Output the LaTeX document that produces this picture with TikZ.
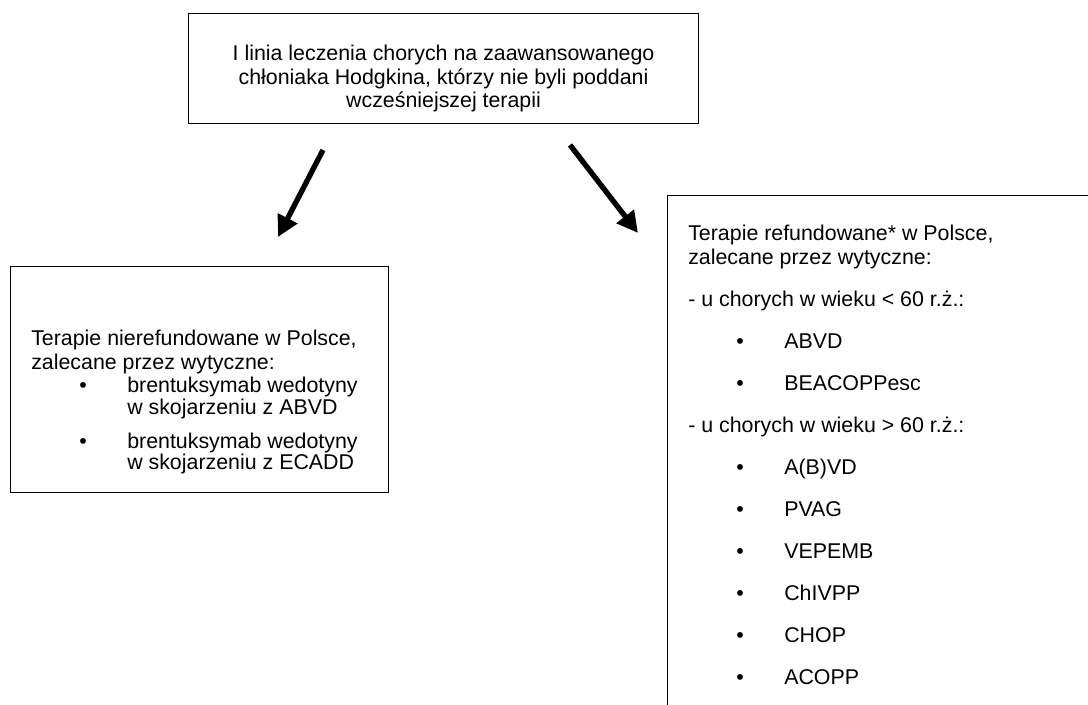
\documentclass[tikz,border=0pt]{standalone}
\usepackage{fontspec}
\setmainfont{Liberation Sans}
\usetikzlibrary{positioning,arrows.meta}
\newcommand{\bull}{\makebox[2.4cm][l]{\hspace{1.2cm}\textbullet}}

\begin{document}
\begin{tikzpicture}
    \tikzstyle{box} = [draw, line width=0.75pt, inner sep=0pt, anchor=north west]
    \tikzstyle{txt} = [inner sep=0pt, align=left, font=\fontsize{15.2}{15.5}\selectfont]
    \tikzstyle{bigarrow} = [-{Triangle[width=15pt,length=15pt]}, line width=3.8pt]
    \useasboundingbox (0,0) rectangle (27.2,-17.6);
    \clip (0,0) rectangle (27.2,-17.6);
    % boxes
    \node[box, minimum width=12.75cm, minimum height=2.75cm] (top) at (4.7,-0.325) {};
    \node[box, minimum width=9.45cm, minimum height=5.65cm] (left) at (0.25,-6.65) {};
    \node[box, minimum width=12cm, minimum height=14cm] (right) at (16.675,-4.875) {};
    % texts
    \node[txt, align=center, font=\fontsize{15.2}{16.7}\selectfont, below=0.775cm of top.north] (toptext)
        {\strut I linia leczenia chorych na zaawansowanego\\
         chłoniaka Hodgkina, którzy nie byli poddani\\
         wcześniejszej terapii};
    \node[txt, below right=1.6cm and 0.525cm of left.north west] (lefttext)
        {\strut Terapie nierefundowane w Polsce,\\
         zalecane przez wytyczne:\\[0.9pt]
         \bull brentuksymab wedotyny\\
         \hspace*{2.4cm}w skojarzeniu z ABVD\\[8.7pt]
         \bull brentuksymab wedotyny\\
         \hspace*{2.4cm}w skojarzeniu z ECADD};
    \node[txt, below right=0.75cm and 0.525cm of right.north west] (righttext)
        {\strut Terapie refundowane* w Polsce,\\
         zalecane przez wytyczne:\\[14.4pt]
         - u chorych w wieku < 60 r.ż.:\\[14.4pt]
         \bull ABVD\\[14.4pt]
         \bull BEACOPPesc\\[14.4pt]
         - u chorych w wieku > 60 r.ż.:\\[14.4pt]
         \bull A(B)VD\\[14.4pt]
         \bull PVAG\\[14.4pt]
         \bull VEPEMB\\[14.4pt]
         \bull ChIVPP\\[14.4pt]
         \bull CHOP\\[14.4pt]
         \bull ACOPP};
    % arrows
    \coordinate (la) at (8.075,-3.75);
    \coordinate (lb) at (6.95,-5.925);
    \coordinate (ra) at (14.25,-3.625);
    \coordinate (rb) at (15.95,-5.825);
    \draw[bigarrow] (la) -- (lb);
    \draw[bigarrow] (ra) -- (rb);
\end{tikzpicture}
\end{document}
